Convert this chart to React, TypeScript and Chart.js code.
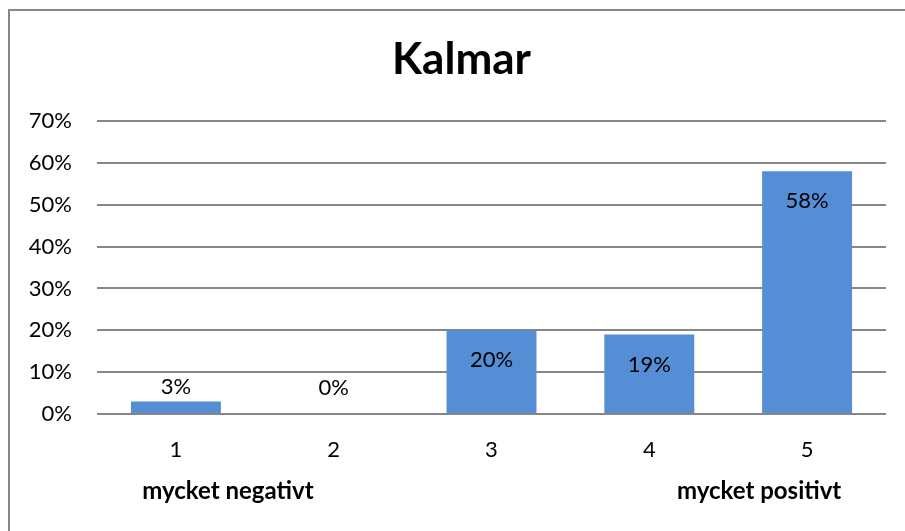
import React, { useEffect, useRef } from "react";
import { Chart, registerables } from "chart.js";

Chart.register(...registerables);

const title = "Kalmar";
const categories = ["1", "2", "3", "4", "5"];
const values = [3, 0, 20, 19, 58];
const yTicks = [0, 10, 20, 30, 40, 50, 60, 70];
const lowLabel = "mycket negativt";
const highLabel = "mycket positivt";

const FONT = "Lato, 'Open Sans', sans-serif";
const BAR = "#558ED5";
const GRID = "#868686";

const overlay = {
  id: "overlay",
  afterDatasetsDraw(chart: any) {
    const ctx = chart.ctx;
    const meta = chart.getDatasetMeta(0);
    const area = chart.chartArea;
    const xs = chart.scales.x;
    ctx.save();
    // border
    ctx.strokeStyle = GRID;
    ctx.lineWidth = 2;
    ctx.beginPath();
    ctx.moveTo(9, 540);
    ctx.lineTo(9, 10);
    ctx.lineTo(910, 10);
    ctx.stroke();
    // title
    ctx.fillStyle = "#000";
    ctx.font = `bold 44px ${FONT}`;
    ctx.textAlign = "center";
    ctx.textBaseline = "middle";
    ctx.fillText(title, (area.left + area.right) / 2 - 30, 60);
    // data labels
    ctx.font = `22px ${FONT}`;
    meta.data.forEach((bar: any, i: number) => {
      const v = values[i];
      const txt = `${v}%`;
      if (v < 10) {
        ctx.fillText(txt, bar.x, bar.base - 26);
      } else {
        ctx.fillText(txt, bar.x, bar.y + 30);
      }
    });
    // bottom labels
    ctx.font = `bold 24px ${FONT}`;
    ctx.fillText(lowLabel, xs.getPixelForValue(0) + 52, 491);
    ctx.fillText(highLabel, xs.getPixelForValue(4) - 48, 491);
    ctx.restore();
  },
};

export default function App() {
  const ref = useRef<HTMLCanvasElement | null>(null);
  useEffect(() => {
    if (!ref.current) return;
    const chart = new Chart(ref.current, {
      type: "bar",
      data: {
        labels: categories,
        datasets: [
          {
            data: values,
            backgroundColor: BAR,
            borderWidth: 0,
            barPercentage: 0.57,
            categoryPercentage: 1,
          },
        ],
      },
      options: {
        responsive: false,
        animation: false,
        layout: { padding: { top: 121, right: 19, bottom: 0, left: 0 } },
        plugins: {
          legend: { display: false },
          tooltip: { enabled: false },
          title: { display: false },
        },
        scales: {
          x: {
            grid: { display: false, drawTicks: false },
            border: { display: false },
            ticks: {
              color: "#000",
              font: { family: FONT, size: 22 },
              padding: 23,
            },
            afterFit: (s: any) => {
              s.height = 117;
            },
          },
          y: {
            min: 0,
            max: 70,
            afterBuildTicks: (s: any) => {
              s.ticks = yTicks.map((v) => ({ value: v }));
            },
            grid: { color: GRID, lineWidth: 2, drawTicks: false },
            border: { display: false },
            ticks: {
              color: "#000",
              font: { family: FONT, size: 22 },
              padding: 25,
              callback: (v: any) => `${v}%`,
            },
            afterFit: (s: any) => {
              s.width = 97;
            },
          },
        },
      },
      plugins: [overlay],
    });
    return () => chart.destroy();
  }, []);
  return (
    <div style={{ position: "fixed", left: 0, top: 0, width: 905, height: 531, background: "#fff" }}>
      <canvas ref={ref} width={905} height={531} style={{ display: "block" }} />
    </div>
  );
}
